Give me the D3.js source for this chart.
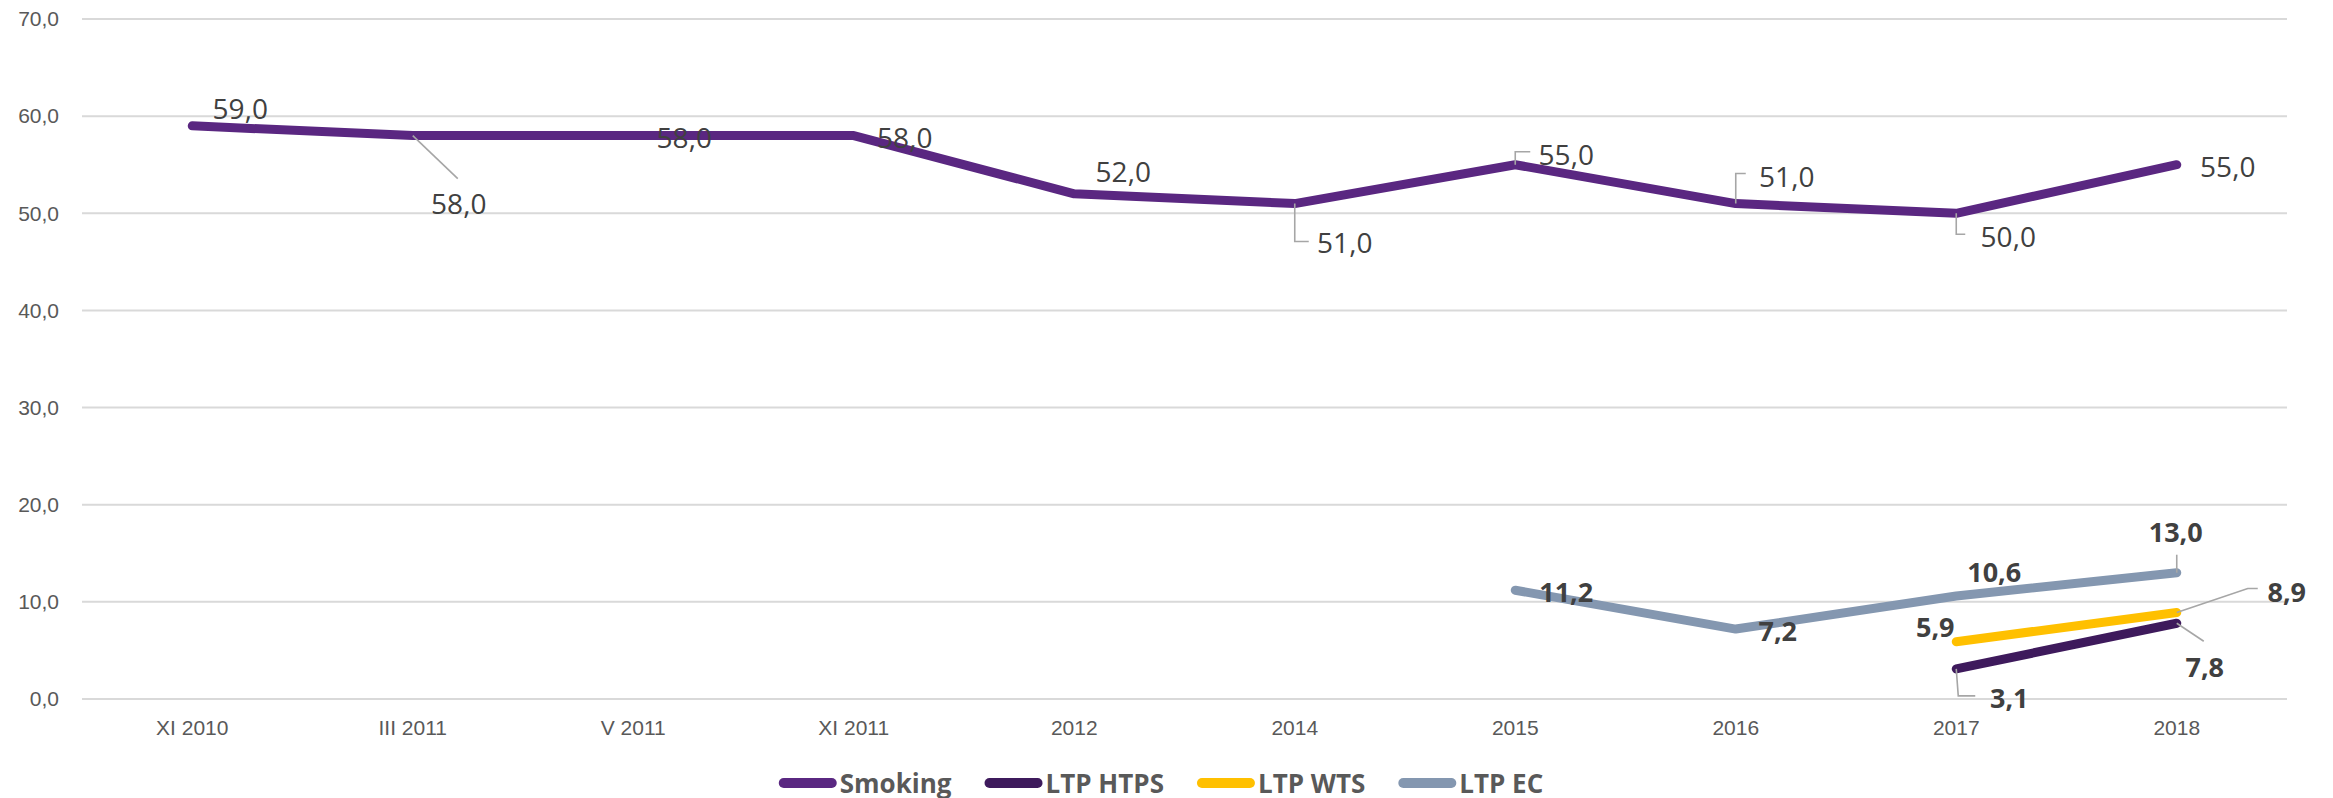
<!DOCTYPE html>
<html>
<head>
<meta charset="utf-8">
<script src="https://cdn.jsdelivr.net/npm/d3@7"></script>
<style>
  html, body { margin: 0; padding: 0; background: #fff; }
  svg { display: block; font-family: 'Open Sans', 'Noto Sans', sans-serif; }
</style>
</head>
<body>
<div id="chart"></div>
<script>
const categories = ['XI 2010', 'III 2011', 'V 2011', 'XI 2011', '2012', '2014', '2015', '2016', '2017', '2018'];
const yTicks = [0, 10, 20, 30, 40, 50, 60, 70];

const smoking = [59.0, 58.0, 58.0, 58.0, 52.0, 51.0, 55.0, 51.0, 50.0, 55.0];
const ltpHtps = [null, null, null, null, null, null, null, null, 3.1, 7.8];
const ltpWts = [null, null, null, null, null, null, null, null, 5.9, 8.9];
const ltpEc = [null, null, null, null, null, null, 11.2, 7.2, 10.6, 13.0];

const seriesNames = ['Smoking', 'LTP HTPS', 'LTP WTS', 'LTP EC'];
const seriesColors = ['#5a2781', '#3e1a5c', '#ffc000', '#8497b0'];

// label placement (px from the point): [dx, dy] of label centre, plus leader polyline
const labelPlacement = {
  'Smoking': [
    {d: [48, -17]},
    {d: [46, 68], leader: [[0, 0], [45, 43]]},
    {d: [51, 2]},
    {d: [51, 2]},
    {d: [49, -22]},
    {d: [50, 39], leader: [[0, 0], [0, 38], [14, 38]]},
    {d: [51, -10], leader: [[0, 0], [0, -13], [15, -13]]},
    {d: [51, -27], leader: [[0, 0], [0, -30], [10, -30]]},
    {d: [52, 24], leader: [[0, 0], [0, 21], [9, 21]]},
    {d: [51, 2]}
  ],
  'LTP HTPS': [
    null, null, null, null, null, null, null, null,
    {d: [53, 29], leader: [[0, 0], [2, 27], [19, 27]]},
    {d: [28, 44], leader: [[0, 0], [27, 18]]}
  ],
  'LTP WTS': [
    null, null, null, null, null, null, null, null,
    {d: [-21, -14]},
    {d: [110, -20], leader: [[0, 0], [71, -24], [81, -24]]}
  ],
  'LTP EC': [
    null, null, null, null, null, null,
    {d: [51, 2]},
    {d: [42, 2]},
    {d: [38, -24]},
    {d: [-1, -40], leader: [[0, 0], [0, -18]]}
  ]
};

const width = 2333;
const height = 798;
const margin = {top: 19, right: 46, bottom: 99, left: 82};

const svg = d3.select('#chart').append('svg')
  .attr('width', width)
  .attr('height', height);

let x = d3.scaleBand()
  .domain(categories)
  .range([margin.left, width - margin.right]);

let y = d3.scaleLinear()
  .domain([0, 70])
  .range([height - margin.bottom, margin.top]);

// gridlines
svg.append('g')
  .selectAll('line')
  .data(yTicks)
  .enter().append('line')
  .attr('x1', margin.left)
  .attr('x2', width - margin.right)
  .attr('y1', d => y(d))
  .attr('y2', d => y(d))
  .attr('stroke', '#d9d9d9')
  .attr('stroke-width', 2);

// y axis labels
let yAxis = d3.axisLeft(y)
  .tickValues(yTicks)
  .tickSize(0)
  .tickPadding(23)
  .tickFormat(d => d3.format('.1f')(d).replace('.', ','));

svg.append('g')
  .attr('transform', 'translate(' + margin.left + ',0)')
  .call(yAxis)
  .call(g => g.select('.domain').remove())
  .selectAll('text')
  .style('font-size', '21px')
  .style('font-family', null)
  .attr('fill', '#595959');

// x axis labels
let xAxis = d3.axisBottom(x)
  .tickSize(0)
  .tickPadding(21);

svg.append('g')
  .attr('transform', 'translate(0,' + y(0) + ')')
  .call(xAxis)
  .call(g => g.select('.domain').remove())
  .selectAll('text')
  .style('font-size', '21px')
  .style('font-family', null)
  .attr('fill', '#595959');

const seriesData = [smoking, ltpHtps, ltpWts, ltpEc];
const cx = i => x(categories[i]) + x.bandwidth() / 2;

let line = d3.line()
  .defined(d => d.v !== null)
  .x(d => cx(d.i))
  .y(d => y(d.v));

const series = seriesNames.map((name, k) => ({
  name,
  color: seriesColors[k],
  points: seriesData[k].map((v, i) => ({v, i}))
}));

svg.append('g')
  .selectAll('path')
  .data(series)
  .enter().append('path')
  .attr('d', s => line(s.points))
  .attr('fill', 'none')
  .attr('stroke', s => s.color)
  .attr('stroke-width', 9)
  .attr('stroke-linejoin', 'round')
  .attr('stroke-linecap', 'round');

// data labels + leader lines
let fmt = v => d3.format('.1f')(v).replace('.', ',');

series.forEach(s => {
  let bold = s.name !== 'Smoking';
  let g = svg.append('g');
  s.points.forEach(p => {
    let place = labelPlacement[s.name][p.i];
    if (p.v === null || !place) return;
    let px = cx(p.i), py = y(p.v);
    if (place.leader) {
      g.append('polyline')
        .attr('points', place.leader.map(q => [px + q[0], py + q[1]].join(',')).join(' '))
        .attr('fill', 'none')
        .attr('stroke', '#a6a6a6')
        .attr('stroke-width', 1.6);
    }
    g.append('text')
      .attr('x', px + place.d[0])
      .attr('y', py + place.d[1])
      .attr('dy', '0.36em')
      .attr('text-anchor', 'middle')
      .style('font-size', bold ? '27px' : '28px')
      .style('font-weight', bold ? 'bold' : 'normal')
      .attr('fill', '#404040')
      .text(fmt(p.v));
  });
});

// legend
let legend = svg.append('g');
let legendY = 783;
let gap = 33;
let cursor = 0;
series.forEach(s => {
  let item = legend.append('g');
  item.append('line')
    .attr('x1', 5).attr('x2', 53)
    .attr('y1', 0).attr('y2', 0)
    .attr('stroke', s.color)
    .attr('stroke-width', 10)
    .attr('stroke-linecap', 'round');
  let t = item.append('text')
    .attr('x', 61)
    .attr('y', 10)
    .style('font-size', '26px')
    .style('font-weight', 'bold')
    .attr('fill', '#595959')
    .text(s.name);
  let w = 61 + t.node().getComputedTextLength();
  item.attr('transform', 'translate(' + cursor + ',0)');
  cursor += w + gap;
});
let legendWidth = cursor - gap;
legend.attr('transform', 'translate(' + (1161 - legendWidth / 2) + ',' + legendY + ')');
</script>
</body>
</html>
